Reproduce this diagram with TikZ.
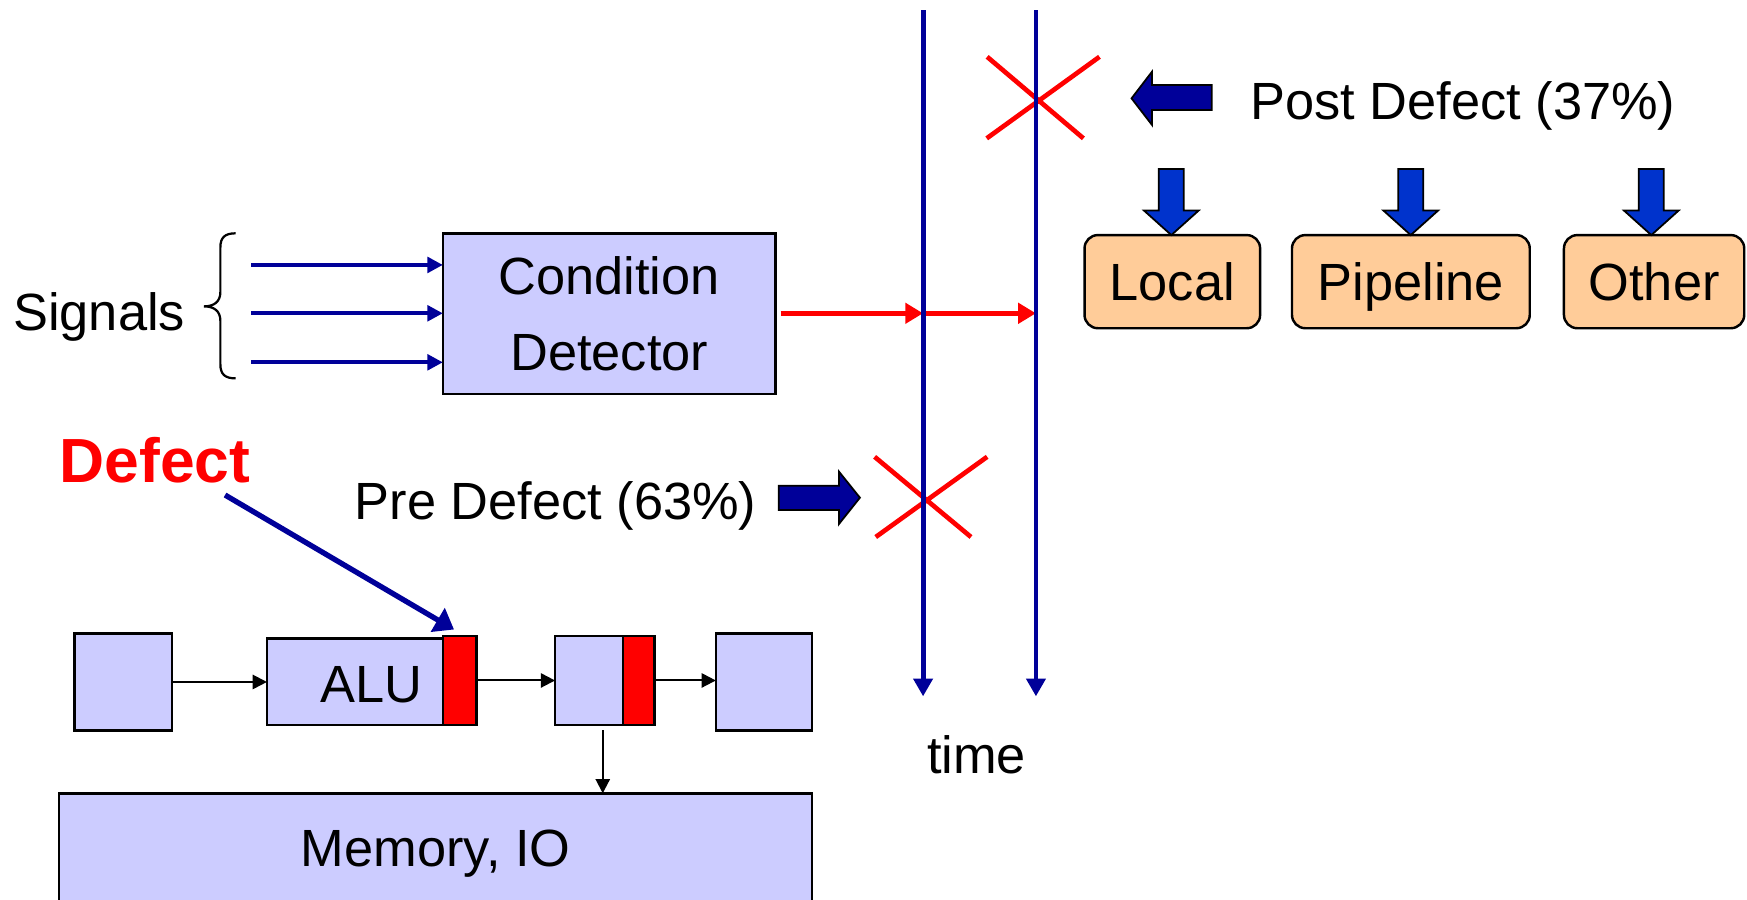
\documentclass[tikz,border=0pt]{standalone}
\usepackage{fontspec}
\setmainfont{Liberation Sans}
\usetikzlibrary{arrows.meta,fit}
\definecolor{navy}{RGB}{0,0,153}
\definecolor{lav}{RGB}{204,204,255}
\definecolor{peach}{RGB}{255,204,153}
\definecolor{dblue}{RGB}{0,51,204}
\begin{document}
\begin{tikzpicture}[x=0.5pt,y=-0.5pt,
  txt/.style={font=\fontsize{23.5}{34.4}\selectfont, inner sep=0pt, outer sep=0pt},
  capc/.style={text height=16.8pt, text depth=0pt},
  box/.style={draw=black, line width=1.1pt, fill=lav, inner sep=0pt, outer sep=0pt},
  regbox/.style={draw=black, line width=1.1pt, fill=red, inner sep=0pt, outer sep=0pt},
  optbox/.style={draw=black, line width=1.1pt, fill=peach, rounded corners=6pt, inner sep=0pt, outer sep=0pt, txt, capc, minimum height=41.8pt},
  sigarrow/.style={navy, line width=1.8pt, -{Triangle[length=7pt,width=7pt]}},
  timeline/.style={navy, line width=2.2pt, -{Triangle[length=8pt,width=8.5pt]}},
  redarrow/.style={red, line width=2pt, -{Triangle[length=8pt,width=9pt]}},
  blkarrow/.style={black, line width=0.9pt, -{Triangle[length=6.4pt,width=6.4pt]}},
  defarrow/.style={navy, line width=2.4pt, -{Triangle[length=8.5pt,width=12pt]}},
  crossline/.style={red, line width=2.1pt},
  fatarrow/.style={draw=black, line width=0.8pt, fill=navy},
  downarrow/.style={draw=black, line width=0.8pt, fill=dblue},
]
\useasboundingbox (0,0) rectangle (1568,807);

% condition detector and signals
\node[box, txt, align=center, minimum width=149.25pt, minimum height=72.1pt] (cd) at (546.75,281.5) {Condition\\Detector};
\node[txt, capc] (signals) at (89,279.7) {Signals};
\draw[line width=1pt] (211.5,209.4) .. controls (202,209.4) and (197.8,213) .. (197.8,222) -- (197.8,262) .. controls (197.8,271) and (192,275) .. (183,275) .. controls (192,275) and (197.8,279) .. (197.8,288) -- (197.8,327) .. controls (197.8,336) and (202,339.6) .. (211.5,339.6);
\foreach \y [count=\i] in {237.8,281.2,325.2} {
  \coordinate (s\i) at (225.7,\y);
  \draw[sigarrow] (s\i) -- (s\i -| cd.west);
}

% crosses
\draw[crossline] (886,51) -- (972.4,124.2) (885.6,124.2) -- (986.8,51);
\draw[crossline] (785,410) -- (871.5,482) (786,482) -- (886,410);

% time lines
\coordinate (t1a) at (828.5,9);
\coordinate (t1b) at (828.5,625);
\coordinate (t2a) at (929.8,9);
\coordinate (t2b) at (929.8,625);
\coordinate (r0) at (700.6,281.2);
\draw[redarrow] (r0) -- (r0 -| t1a);
\draw[redarrow] (r0 -| t1a) -- (r0 -| t2a);
\draw[timeline] (t1a) -- (t1b);
\draw[timeline] (t2a) -- (t2b);
\node[txt, anchor=base] (time) at (876.5,694) {time};

% post / pre defect
\draw[fatarrow] (1015.6,88.3) -- (1034,64.3) -- (1034,76.3) -- (1087.6,76.3) -- (1087.6,98.7) -- (1034,98.7) -- (1034,112.2) -- cycle;
\node[txt, anchor=base] (post) at (1313,107) {Post Defect (37\%)};
\draw[fatarrow] (771.8,446.7) -- (753,423.3) -- (753,435.9) -- (699,435.9) -- (699,457.7) -- (753,457.7) -- (753,470.3) -- cycle;
\node[txt, anchor=base] (pre) at (498.7,466) {Pre Defect (63\%)};

% options
\node[optbox, minimum width=78.8pt] (local) at (1052.2,252.8) {Local};
\node[optbox, minimum width=106.7pt] (pipe) at (1266.3,252.8) {Pipeline};
\node[optbox, minimum width=80.9pt] (other) at (1484.6,252.8) {Other};
\foreach \x in {1051.3,1266.2,1482.1} {
  \draw[downarrow] (\x-11.2,151.7) -- (\x+11.2,151.7) -- (\x+11.2,189) -- (\x+24.5,189) -- (\x,211) -- (\x-24.5,189) -- (\x-11.2,189) -- cycle;
}

% defect
\node[txt, font=\bfseries\fontsize{28}{32}\selectfont, text=red, anchor=base] (defect) at (139,433.2) {Defect};
\coordinate (da) at (202,444.3);
\coordinate (db) at (407.5,565);
\draw[defarrow] (da) -- (db);

% pipeline
\node[box, fit={(67,568.4) (154.6,655.8)}] (b1) {};
\node[box, fit={(239.6,572.9) (397.8,650.7)}] (alu) {};
\node[regbox, fit={(397.8,570.8) (427.6,650.7)}] (r1) {};
\node[txt, capc] (alutxt) at (333.6,613.3) {ALU};
\node[box, fit={(498.2,570.8) (559,650.7)}] (b3) {};
\node[regbox, fit={(559,570.8) (587.3,650.7)}] (r3) {};
\node[box, fit={(642.5,568.4) (729,655.8)}] (b4) {};
\node[box, txt, capc, minimum width=338pt, minimum height=49pt] (mem) at (391,761) {Memory, IO};
\draw[blkarrow] (b1.east) -- (b1.east -| alu.west);
\draw[blkarrow] (r1.east) -- (r1.east -| b3.west);
\draw[blkarrow] (r3.east) -- (r3.east -| b4.west);
\coordinate (m0) at (541,655.2);
\draw[blkarrow] (m0) -- (m0 |- mem.north);
\end{tikzpicture}
\end{document}
